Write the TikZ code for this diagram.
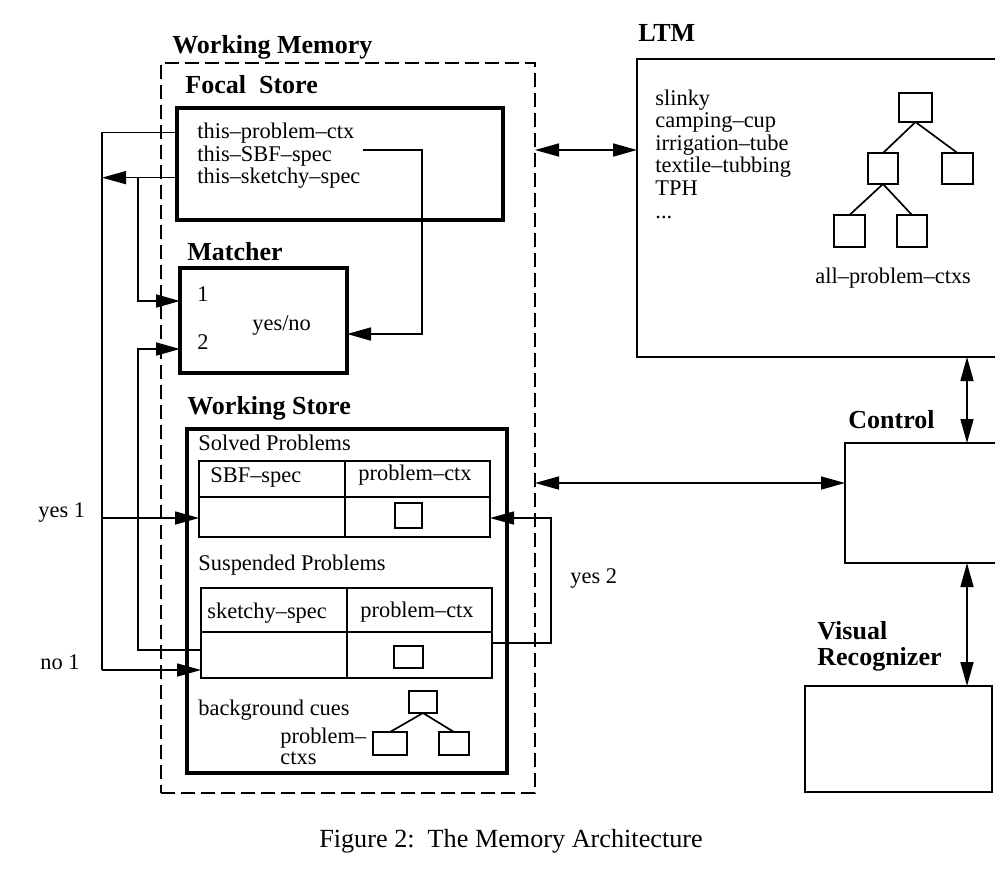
\documentclass[tikz,border=0pt]{standalone}
\usepackage{fontspec}
\setmainfont{Liberation Serif}
\usetikzlibrary{arrows.meta,fit}
\begin{document}
\begin{tikzpicture}[x=0.5pt,y=-0.5pt,
  txt/.style={font=\fontsize{11.2}{13}\selectfont, inner sep=0pt, anchor=base west},
  head/.style={font=\fontsize{13}{15}\selectfont\bfseries, inner sep=0pt, anchor=base west},
  capt/.style={font=\fontsize{13.1}{15}\selectfont, inner sep=0pt, anchor=base},
  bigbox/.style={draw, line width=1.8pt, inner sep=0pt, outer sep=0pt},
  sidebox/.style={draw, line width=1.4pt, inner sep=0pt, outer sep=0pt},
  tablebox/.style={draw, line width=0.85pt, inner sep=0pt, outer sep=0pt},
  sq/.style={draw, line width=0.85pt, inner sep=0pt, outer sep=0pt},
  dashbox/.style={draw, line width=0.8pt, dash pattern=on 7pt off 3pt, inner sep=0pt, outer sep=0pt},
  conn/.style={line width=0.8pt},
  tline/.style={line width=0.85pt},
  tip/.tip={Triangle[length=12pt,width=6.5pt]},
  arr/.style={conn,-tip},
  darr/.style={conn,tip-tip}
]
\useasboundingbox (0,0) rectangle (995,880);
\clip (0,0) rectangle (995,880);

% ---------- Working memory ----------
\node[head] (wmlab) at (172,53) {Working Memory};
\node[dashbox, fit={(161,63)(535,793)}] (wm) {};

% Focal store
\node[head] (foclab) at (185,93) {Focal\ \ Store};
\node[bigbox, fit={(177,108)(503,220)}] (focal) {};
\node[txt] (tpc) at (197,138) {this–problem–ctx};
\node[txt] (tsbf) at (197,161) {this–SBF–spec};
\node[txt] (tsk) at (197,183) {this–sketchy–spec};

% Matcher
\node[head] (matlab) at (187,260) {Matcher};
\node[bigbox, fit={(180,268)(347,373)}] (matcher) {};
\node[txt] (in1) at (197,301) {1};
\node[txt] (in2) at (197,349) {2};
\node[txt] (yn) at (252,330) {yes/no};

% Working store
\node[head] (wslab) at (187,414) {Working Store};
\node[bigbox, line width=2pt, fit={(187,429)(507,773)}] (ws) {};
\node[txt] (solvlab) at (198,450) {Solved Problems};
\node[tablebox, fit={(199,461)(490,537)}] (solved) {};
\node[txt] (sbf) at (210,482) {SBF–spec};
\node[txt] (pc1) at (358,480) {problem–ctx};
\node[sq, fit={(395,503)(422,528)}] (sq1) {};
\node[txt] (susplab) at (198,570) {Suspended Problems};
\node[tablebox, fit={(201,588)(492,678)}] (susp) {};
\node[txt] (sks) at (207,618) {sketchy–spec};
\node[txt] (pc2) at (360,617) {problem–ctx};
\node[sq, fit={(394,646)(423,668)}] (sq2) {};
\node[txt] (bgc) at (198,715) {background cues};
\node[txt] (pcx1) at (280,743) {problem–};
\node[txt] (pcx2) at (280,764) {ctxs};
\node[sq, fit={(409,691)(437,713)}] (wt0) {};
\node[sq, fit={(373,732)(407,755)}] (wt1) {};
\node[sq, fit={(439,732)(469,755)}] (wt2) {};
\draw[tline] (wt0.south) -- (wt1.north);
\draw[tline] (wt0.south) -- (wt2.north);

% table rulings
\coordinate (r1) at (0,497);
\coordinate (d1) at (345,0);
\coordinate (r2) at (0,632);
\coordinate (d2) at (347,0);
\draw[tline] (solved.west |- r1) -- (solved.east |- r1);
\draw[tline] (solved.north -| d1) -- (solved.south -| d1);
\draw[tline] (susp.west |- r2) -- (susp.east |- r2);
\draw[tline] (susp.north -| d2) -- (susp.south -| d2);

% ---------- LTM ----------
\node[head] (ltmlab) at (638,41) {LTM};
\node[sidebox, fit={(637,59)(1010,357)}] (ltm) {};
\node[txt] (l1) at (655,105) {slinky};
\node[txt] (l2) at (655,127.6) {camping–cup};
\node[txt] (l3) at (655,150.2) {irrigation–tube};
\node[txt] (l4) at (655,172.8) {textile–tubbing};
\node[txt] (l5) at (655,195.4) {TPH};
\node[txt] (l6) at (655,218) {...};
\node[sq, fit={(899,93)(932,122)}] (t0) {};
\node[sq, fit={(868,153)(898,184)}] (t1) {};
\node[sq, fit={(942,153)(973,184)}] (t2) {};
\node[sq, fit={(834,215)(865,247)}] (t3) {};
\node[sq, fit={(897,215)(927,247)}] (t4) {};
\draw[tline] (t0.south) -- (t1.north);
\draw[tline] (t0.south) -- (t2.north);
\draw[tline] (t1.south) -- (t3.north);
\draw[tline] (t1.south) -- (t4.north);
\node[txt] (apc) at (815,283) {all–problem–ctxs};

% ---------- Control & Visual recognizer ----------
\node[head] (ctllab) at (848,428) {Control};
\node[sidebox, fit={(845,443)(1010,563)}] (control) {};
\node[head] (vrlab1) at (817,639) {Visual};
\node[head] (vrlab2) at (817,665) {Recognizer};
\node[sidebox, fit={(805,686)(992,792)}] (vr) {};

% ---------- connectors ----------
\coordinate (c1) at (102,0);
\coordinate (c2) at (138,0);
\coordinate (c3) at (422,0);
\coordinate (c4) at (551,0);
\coordinate (c5) at (967,0);
\coordinate (yfb) at (0,334);
\coordinate (yes1) at (0,518);
\coordinate (no1) at (0,670);
\coordinate (sk) at (0,650);
\coordinate (y2) at (0,643);
\coordinate (yltm) at (0,150);
\coordinate (yctl) at (0,483);
\coordinate (sbfout) at (363,150);

\draw[conn] (focal.west |- tpc) -- (c1 |- tpc) -- (c1 |- no1);
\draw[arr] (c1 |- no1) -- (susp.west |- no1);
\draw[arr] (c1 |- yes1) -- (solved.west |- yes1);
\draw[arr] (focal.west |- tsk) -- (c1 |- tsk);
\draw[arr] (c2 |- tsk) -- (c2 |- in1.base) -- (matcher.west |- in1.base);
\draw[arr] (susp.west |- sk) -- (c2 |- sk) -- (c2 |- in2.base) -- (matcher.west |- in2.base);
\draw[arr] (sbfout) -- (c3 |- sbfout) -- (c3 |- yfb) -- (matcher.east |- yfb);
\draw[arr] (susp.east |- y2) -- (c4 |- y2) -- (c4 |- yes1) -- (solved.east |- yes1);

\node[txt] (yes1lab) at (38,517) {yes 1};
\node[txt] (no1lab) at (40,669) {no 1};
\node[txt] (yes2lab) at (570,583) {yes 2};

\draw[darr] (wm.east |- yltm) -- (ltm.west |- yltm);
\draw[darr] (wm.east |- yctl) -- (control.west |- yctl);
\draw[darr] (c5 |- ltm.south) -- (c5 |- control.north);
\draw[darr] (c5 |- control.south) -- (c5 |- vr.north);

% caption
\node[capt] (cap) at (511,847) {Figure 2:\ \ The Memory Architecture};
\end{tikzpicture}
\end{document}
